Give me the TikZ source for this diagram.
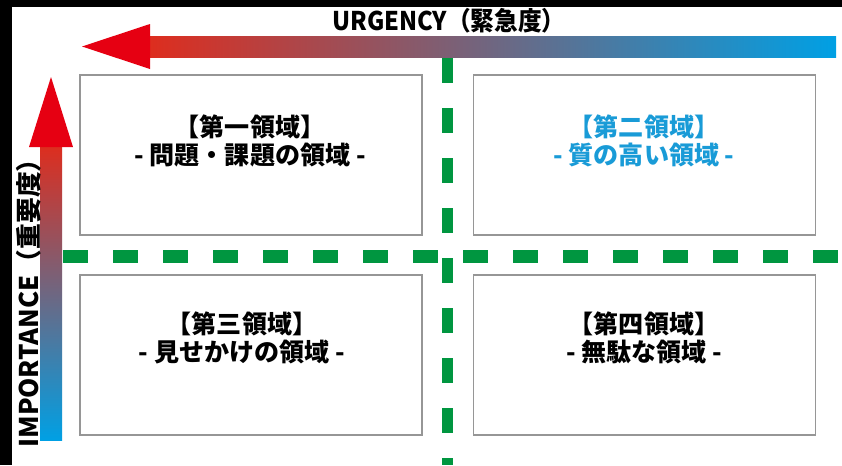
\documentclass[tikz,border=0pt]{standalone}
\usepackage{fontspec}
\newfontfamily\jpfont{Noto Sans CJK JP}

\definecolor{axisred}{RGB}{230,0,18}
\definecolor{shaftred}{RGB}{222,45,30}
\definecolor{axismid}{RGB}{150,132,120}
\definecolor{axisblue}{RGB}{0,160,228}
\definecolor{sepgreen}{RGB}{0,150,64}
\definecolor{quadgray}{RGB}{150,150,150}
\definecolor{textblue}{RGB}{25,155,215}

\tikzset{every picture/.style={line width=0.75pt}}

\begin{document}
\begin{tikzpicture}[x=0.75pt,y=0.75pt,yscale=-1,xscale=1,
  quad/.style={draw=quadgray, line width=1.1pt, fill=white, inner sep=0pt,
    minimum width=256.5pt, minimum height=120pt},
  sep/.style={draw=sepgreen, dash pattern=on 18.75pt off 18.75pt},
  head/.style={fill=axisred, draw=none},
  quadtext/.style={font=\jpfont\bfseries\fontsize{18.8}{21}\selectfont, align=center, inner sep=0.75pt},
  axistext/.style={font=\jpfont\bfseries\fontsize{19.3}{22}\selectfont, inner sep=0.75pt}]
	\useasboundingbox (0,0) rectangle (842,465);

	%Background
	\fill [white] (0,0) rectangle (842,465);
	\fill [black] (0,0) rectangle (842,7);
	\fill [black] (0,0) rectangle (12,465);

	%Dashed separators
	\draw [sep, line width=8.25pt] (447.5,58) -- (447.5,465);
	\draw [sep, line width=9.4pt] (63,256.5) -- (842,256.5);

	%Quadrant boxes
	\node [quad] (q1) at (251,155) {};
	\node [quad] (q2) at (644.5,155) {};
	\node [quad] (q3) at (251,355) {};
	\node [quad] (q4) at (644.5,355) {};

	%Axis: urgency
	\shade [left color=shaftred, middle color=axismid, right color=axisblue] (148,36) rectangle (836,57);
	\fill [head] (82,46.5) -- (150,24) -- (150,69) -- cycle;
	%Axis: importance
	\shade [top color=shaftred, middle color=axismid, bottom color=axisblue] (40,145) rectangle (62,440);
	\fill [head] (51,77) -- (29,147) -- (73,147) -- cycle;

	% Text Node
	\node [axistext, xscale=0.92] (urgency) at (449,21) {URGENCY（緊急度）};
	% Text Node
	\node [axistext, rotate=90] (importance) at (29,297) {IMPORTANCE（重要度）};

	% Text Node
	\node [quadtext] (t1) at (250,141) {【第一領域】\\- 問題・課題の領域 -};
	% Text Node
	\node [quadtext, text=textblue] (t2) at (644,141) {【第二領域】\\- 質の高い領域 -};
	% Text Node
	\node [quadtext] (t3) at (242,338) {【第三領域】\\- 見せかけの領域 -};
	% Text Node
	\node [quadtext] (t4) at (644,338) {【第四領域】\\- 無駄な領域 -};

\end{tikzpicture}
\end{document}
